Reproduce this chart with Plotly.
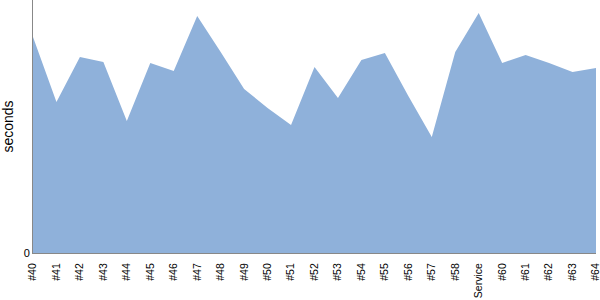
import plotly.graph_objects as go

categories = ["#40", "#41", "#42", "#43", "#44", "#45", "#46", "#47", "#48", "#49",
              "#50", "#51", "#52", "#53", "#54", "#55", "#56", "#57", "#58", "Service",
              "#60", "#61", "#62", "#63", "#64"]
seconds = [216, 151, 196, 191, 132, 190, 182, 237, 201, 164,
           145, 128, 186, 155, 193, 200, 157, 116, 201, 240,
           190, 198, 190, 181, 185]

fig = go.Figure()
fig.add_trace(go.Scatter(
    x=categories, y=seconds, mode="lines", fill="tozeroy",
    line=dict(width=0, color="#8fb1da"), fillcolor="#8fb1da",
    hoverinfo="x+y", showlegend=False,
))
fig.update_layout(
    width=600, height=300,
    margin=dict(l=33, r=4, t=0, b=47),
    paper_bgcolor="white", plot_bgcolor="white",
    font=dict(family="Liberation Sans", size=11, color="black"),
    xaxis=dict(type="category", range=[0, len(categories) - 1], tickangle=-90,
               showgrid=False, zeroline=False, showline=True, linecolor="#888888",
               linewidth=1, ticks="", tickfont=dict(size=10.5), ticklabelstandoff=5),
    yaxis=dict(range=[0, 253], tickvals=[0], ticktext=["0"], showgrid=False,
               zeroline=False, showline=True, linecolor="#888888", linewidth=1,
               ticks="", title=dict(text="seconds", font=dict(size=14), standoff=10),
               tickfont=dict(size=11)),
)
fig.write_html("out.html")
